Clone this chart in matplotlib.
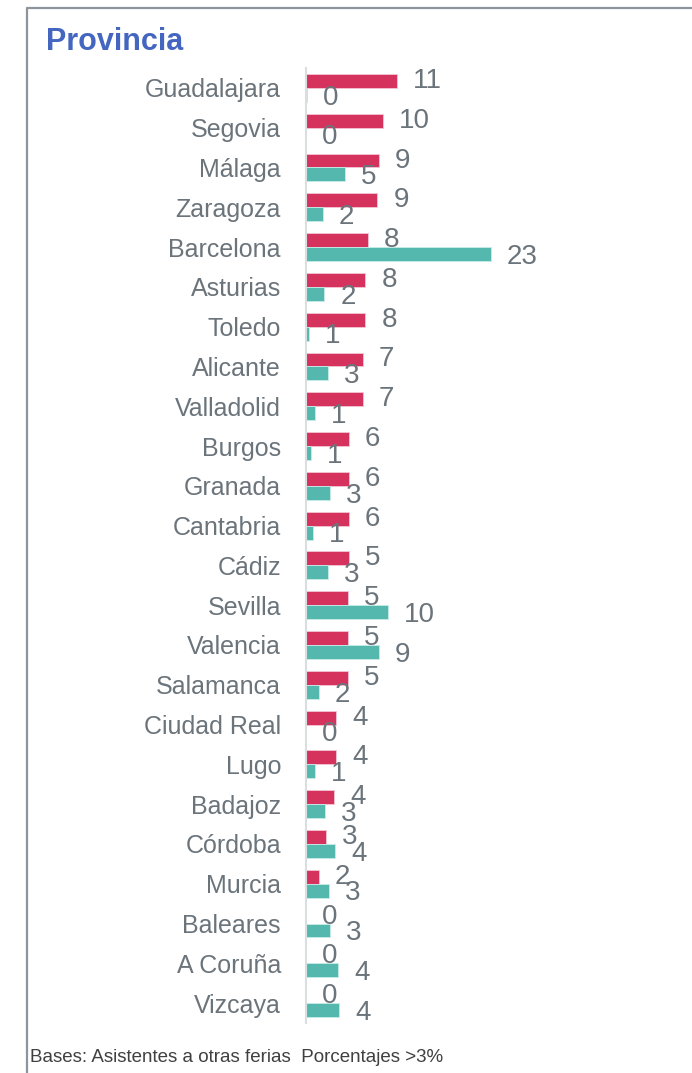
import numpy as np
import matplotlib
matplotlib.use('Agg')
import matplotlib.pyplot as plt
from matplotlib.lines import Line2D

plt.rcParams['font.family'] = ['Liberation Sans', 'DejaVu Sans']

# Data
provincias = ['Guadalajara', 'Segovia', 'Málaga', 'Zaragoza', 'Barcelona', 'Asturias',
              'Toledo', 'Alicante', 'Valladolid', 'Burgos', 'Granada', 'Cantabria',
              'Cádiz', 'Sevilla', 'Valencia', 'Salamanca', 'Ciudad Real', 'Lugo',
              'Badajoz', 'Córdoba', 'Murcia', 'Baleares', 'A Coruña', 'Vizcaya']

# bar lengths
rojo = [11.3, 9.6, 9.1, 8.9, 7.75, 7.4, 7.4, 7.1, 7.1, 5.35, 5.35, 5.35,
        5.35, 5.2, 5.2, 5.2, 3.74, 3.74, 3.5, 2.5, 1.6, 0, 0, 0]
verde = [0.1, 0, 4.8, 2.1, 23, 2.3, 0.4, 2.7, 1.1, 0.6, 3.0, 0.9,
         2.7, 10.2, 9.1, 1.6, 0.05, 1.1, 2.4, 3.6, 2.9, 3.0, 4.0, 4.1]

# data labels as printed
rojo_lbl = [11, 10, 9, 9, 8, 8, 8, 7, 7, 6, 6, 6, 5, 5, 5, 5, 4, 4, 4, 3, 2, 0, 0, 0]
verde_lbl = [0, 0, 5, 2, 23, 2, 1, 3, 1, 1, 3, 1, 3, 10, 9, 2, 0, 1, 3, 4, 3, 3, 4, 4]

c_rojo = '#D5335E'
c_verde = '#55B8AF'
c_texto = '#6B747B'

W, H = 692, 1073
fig = plt.figure(figsize=(W / 100, H / 100), dpi=100)

ax = fig.add_axes([306 / W, (H - 1023) / H, 384 / W, (1023 - 68) / H])

y = np.arange(len(provincias))
h = 0.35
ax.barh(y - h / 2, rojo, height=h, color=c_rojo, edgecolor='#F2C6D2', linewidth=0.6)
ax.barh(y + h / 2, verde, height=h, color=c_verde, edgecolor='#C9ECE8', linewidth=0.6)

for i in range(len(provincias)):
    ax.annotate(str(rojo_lbl[i]), (rojo[i], y[i] - h / 2), xytext=(11.5, 0),
                textcoords='offset points', ha='left', va='center',
                fontsize=20, color=c_texto)
    ax.annotate(str(verde_lbl[i]), (verde[i], y[i] + h / 2), xytext=(11.5, -2),
                textcoords='offset points', ha='left', va='center',
                fontsize=20, color=c_texto)

ax.set_xlim(0, 47.8)
ax.set_ylim(len(provincias) - 0.5, -0.5)
ax.set_yticks(y)
ax.set_yticklabels(provincias, fontsize=18, color=c_texto)
ax.tick_params(axis='y', length=0, pad=18)
ax.set_xticks([])
for s in ['top', 'right', 'bottom']:
    ax.spines[s].set_visible(False)
ax.spines['left'].set_color('#D9DEE1')
ax.spines['left'].set_linewidth(1.5)

# frame
fig.add_artist(Line2D([27 / W, 27 / W, 1.0], [0.0, 1 - 8 / H, 1 - 8 / H],
                      transform=fig.transFigure, color='#8C959B', linewidth=1.6))

fig.text(46 / W, 1 - 42 / H, 'Provincia', fontsize=22, fontweight='bold',
         color='#4466C0', va='center', ha='left')
fig.text(30 / W, 1 - 1058 / H, 'Bases: Asistentes a otras ferias  Porcentajes >3%',
         fontsize=13.5, color='#404040', va='center', ha='left')

fig.savefig('out.png', dpi=100)
